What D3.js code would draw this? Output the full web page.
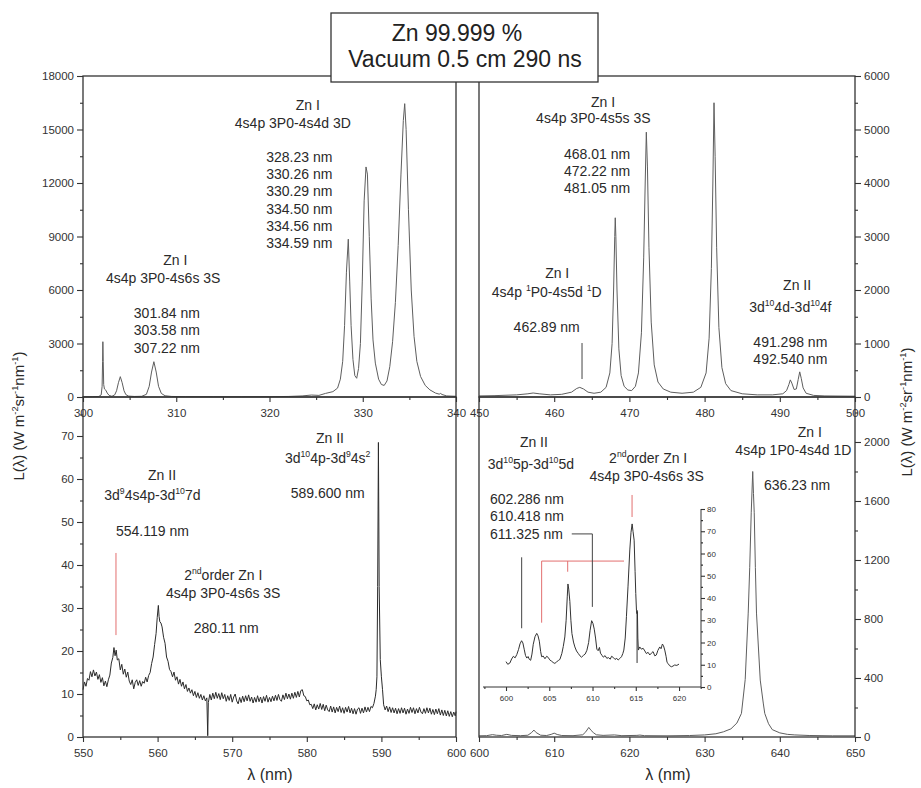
<!DOCTYPE html>
<html>
<head>
<meta charset="utf-8">
<script src="https://cdn.jsdelivr.net/npm/d3@7"></script>
<style>
  body { margin: 0; background: #fff; }
  svg { font-family: "Liberation Sans", Arial, sans-serif; }
</style>
</head>
<body>
<svg id="chart" width="921" height="788"></svg>
<script>
// ---------- spectra: [wavelength (nm), L(λ)] ----------
const spectrumUV = [
  [300.0,10],[301.0,15],[301.7,30],[301.95,120],[302.05,600],[302.1,2000],[302.13,3100],[302.17,2000],
  [302.22,700],[302.3,450],[302.45,380],[302.6,220],[302.8,90],[303.1,40],[303.4,120],[303.6,350],
  [303.8,800],[304.0,1140],[304.2,800],[304.4,350],[304.6,130],[304.9,50],[305.5,30],[306.3,40],
  [306.8,150],[307.1,600],[307.35,1400],[307.6,1980],[307.85,1400],[308.1,600],[308.4,200],[308.8,70],
  [309.5,30],[311,20],[314,15],[317,15],[320,20],[322,30],[323.5,60],[324.5,110],[325.3,90],[326,200],
  [326.8,300],[327.3,500],[327.6,1000],[327.85,2000],[328.05,4000],[328.25,7000],[328.45,8850],
  [328.6,6500],[328.75,4000],[328.95,2100],[329.15,1200],[329.35,1050],[329.55,1600],[329.75,3000],
  [329.95,6500],[330.15,11000],[330.35,12900],[330.5,12500],[330.7,9000],[330.9,5500],[331.1,3200],
  [331.35,1900],[331.7,1000],[332.0,700],[332.3,650],[332.6,900],[332.9,1700],[333.2,3100],[333.5,5300],
  [333.8,8500],[334.1,12500],[334.35,15500],[334.5,16450],[334.65,15000],[334.9,10500],[335.2,6000],
  [335.5,3400],[335.8,2000],[336.2,1150],[336.7,650],[337.2,400],[337.8,220],[338.2,160],[338.35,200],
  [338.5,140],[339.0,60],[340.0,40]
];

const spectrumBlue = [
  [450,20],[452,25],[455,40],[456.5,60],[457.2,75],[458,60],[459.5,40],[461,50],[462.3,90],[463.0,160],
  [463.4,180],[463.9,150],[464.5,90],[465.3,70],[466.2,90],[466.9,180],[467.4,450],[467.7,1000],
  [467.9,2000],[468.05,3000],[468.12,3350],[468.2,3000],[468.35,2000],[468.6,900],[468.9,400],
  [469.3,200],[469.8,130],[470.3,120],[470.8,200],[471.2,450],[471.6,1200],[471.9,2600],[472.1,4000],
  [472.25,4950],[472.4,4300],[472.6,2800],[472.9,1400],[473.3,600],[473.8,280],[474.5,150],[475.5,90],
  [477,70],[478.5,90],[479.5,180],[480.2,450],[480.6,1100],[480.9,2400],[481.1,4000],[481.25,5500],
  [481.4,4500],[481.6,2800],[481.9,1300],[482.3,550],[482.8,250],[483.5,120],[485,60],[487,40],
  [489,40],[490.4,60],[490.9,120],[491.2,230],[491.4,320],[491.6,260],[491.9,140],[492.2,150],
  [492.45,330],[492.65,470],[492.85,350],[493.1,170],[493.5,70],[494.5,30],[496,20],[500,15]
];

const spectrumYellow = [
  [550.0,11.0],[550.2,12.8],[550.4,11.8],[550.6,13.6],[550.8,13.2],[551.0,15.2],[551.2,14.0],[551.4,15.6],
  [551.6,14.2],[551.8,15.1],[552.0,13.4],[552.2,14.5],[552.4,12.7],[552.6,13.8],[552.8,11.9],[553.0,13.0],
  [553.2,11.7],[553.4,13.3],[553.6,14.4],[553.8,17.2],[554.0,18.5],[554.15,20.8],[554.3,18.9],[554.45,20.2],
  [554.6,17.9],[554.8,18.2],[555.0,15.6],[555.2,16.9],[555.4,14.6],[555.6,15.8],[555.8,13.9],[556.0,15.1],
  [556.2,13.0],[556.4,12.2],[556.6,13.3],[556.8,11.2],[557.0,12.7],[557.2,13.3],[557.4,12.0],[557.6,13.1],
  [557.8,11.8],[558.0,12.9],[558.2,12.5],[558.4,13.9],[558.6,12.8],[558.8,14.3],[559.0,15.0],[559.2,17.1],
  [559.4,18.6],[559.6,21.5],[559.8,24.1],[559.95,27.8],[560.1,30.6],[560.2,28.0],[560.3,26.8],[560.45,26.5],
  [560.6,25.6],[560.8,23.2],[561.0,21.8],[561.2,18.6],[561.4,17.6],[561.6,15.7],[561.8,15.2],[562.0,14.0],
  [562.2,15.1],[562.4,13.2],[562.6,14.0],[562.8,12.3],[563.0,13.4],[563.2,11.8],[563.4,12.8],[563.6,11.2],
  [563.8,12.2],[564.0,10.6],[564.2,11.4],[564.4,10.2],[564.6,11.0],[564.8,9.6],[565.0,10.6],[565.2,9.2],
  [565.4,10.3],[565.6,9.0],[565.8,9.9],[566.0,8.6],[566.2,9.6],[566.4,8.4],[566.6,9.1],[566.72,0.3],
  [566.8,8.0],[567.0,9.9],[567.2,8.6],[567.4,10.2],[567.6,8.9],[567.8,10.4],[568.0,9.0],[568.2,10.1],
  [568.4,8.7],[568.6,10.3],[568.8,8.9],[569.0,9.9],[569.2,8.3],[569.4,9.6],[569.6,8.5],[569.8,9.9],
  [570.0,8.1],[570.2,9.3],[570.4,10.0],[570.6,8.4],[570.8,7.7],[571.0,9.2],[571.2,8.0],[571.4,9.5],
  [571.6,8.2],[571.8,9.6],[572.0,8.4],[572.2,9.8],[572.4,8.3],[572.6,9.3],[572.8,7.9],[573.0,9.2],
  [573.2,8.1],[573.4,9.6],[573.6,8.2],[573.8,9.3],[574.0,7.9],[574.2,9.4],[574.4,8.3],[574.6,9.7],
  [574.8,8.1],[575.0,9.2],[575.2,8.2],[575.4,9.5],[575.6,8.4],[575.8,9.7],[576.0,8.5],[576.2,9.9],
  [576.4,8.7],[576.6,8.3],[576.8,9.8],[577.0,8.7],[577.2,10.2],[577.4,8.9],[577.6,10.0],[577.8,8.8],
  [578.0,10.2],[578.2,9.0],[578.4,10.4],[578.6,9.2],[578.8,10.6],[579.0,9.3],[579.2,10.8],[579.4,11.0],
  [579.6,9.6],[579.8,9.4],[580.0,8.4],[580.2,8.6],[580.4,7.5],[580.6,7.6],[580.8,6.6],[581.0,7.7],
  [581.2,6.3],[581.4,7.5],[581.6,6.5],[581.8,7.8],[582.0,6.4],[582.2,7.6],[582.4,6.1],[582.6,7.4],
  [582.8,6.3],[583.0,5.9],[583.2,7.2],[583.4,5.8],[583.6,7.0],[583.8,5.6],[584.0,6.9],[584.2,5.9],
  [584.4,7.2],[584.6,5.7],[584.8,6.8],[585.0,5.5],[585.2,6.9],[585.4,5.8],[585.6,7.1],[585.8,5.6],
  [586.0,6.7],[586.2,5.4],[586.4,6.6],[586.6,5.3],[586.8,6.5],[587.0,6.8],[587.2,5.5],[587.4,6.7],
  [587.6,5.6],[587.8,7.0],[588.0,5.8],[588.2,6.9],[588.4,5.9],[588.6,7.1],[588.8,6.8],[589.0,7.8],
  [589.2,9.5],[589.3,11.0],[589.4,14.0],[589.5,35.0],[589.6,68.5],[589.7,35.0],[589.85,18.0],[590.0,14.0],
  [590.15,11.0],[590.3,7.5],[590.5,6.3],[590.7,7.2],[590.9,5.9],[591.1,7.0],[591.3,5.7],[591.5,6.8],
  [591.7,5.6],[591.9,6.7],[592.1,5.4],[592.3,6.6],[592.5,5.5],[592.7,6.8],[592.9,5.6],[593.1,6.7],
  [593.3,5.3],[593.5,6.5],[593.7,5.5],[593.9,6.9],[594.1,5.7],[594.3,6.8],[594.5,5.4],[594.7,6.6],
  [594.9,5.6],[595.1,6.9],[595.3,5.8],[595.5,5.4],[595.7,6.6],[595.9,5.5],[596.1,6.8],[596.3,5.6],
  [596.5,6.7],[596.7,5.3],[596.9,6.4],[597.1,5.2],[597.3,6.5],[597.5,5.4],[597.7,6.6],[597.9,5.1],
  [598.1,6.3],[598.3,5.0],[598.5,6.2],[598.7,4.9],[598.9,6.1],[599.1,4.8],[599.3,5.9],[599.5,4.7],
  [599.7,5.8],[599.9,4.9],[600.0,5.9]
];

const spectrumRed = [
  [600,8],[601,9],[601.8,16],[602.3,12],[603.0,10],[603.7,18],[604.3,11],[605.5,9],[606.5,12],[607.0,30],
  [607.3,47],[607.6,30],[608.2,12],[609.0,10],[609.6,18],[610.0,26],[610.4,17],[611.0,10],[612.5,9],
  [613.8,15],[614.2,35],[614.6,65],[614.9,45],[615.2,30],[615.6,15],[616.5,11],[618.0,14],[619.0,9],
  [621.0,11],[621.4,13],[622,9],[625,8],[628,10],[630,14],[631.5,22],[632.5,35],[633.5,55],[634.3,95],
  [634.9,160],[635.4,390],[635.8,840],[636.0,1150],[636.2,1520],[636.4,1800],[636.5,1650],[636.6,1520],
  [636.75,1150],[636.9,840],[637.4,386],[637.8,230],[638.0,160],[638.5,90],[639.0,50],[640,28],[641,18],
  [642,14],[644,10],[647,8],[650,8]
];

const spectrumInset = [
  [600.0,11.4],[600.2,10.2],[600.45,10.8],[600.65,12.6],[600.85,13.8],[601.05,13.1],[601.25,14.6],
  [601.45,16.9],[601.62,19.4],[601.8,20.8],[601.95,19.8],[602.1,17.0],[602.25,14.2],[602.4,13.0],
  [602.55,13.7],[602.7,12.4],[602.85,12.0],[603.0,14.8],[603.15,19.2],[603.35,22.6],[603.55,24.1],
  [603.7,23.0],[603.85,20.6],[604.0,16.0],[604.12,13.6],[604.3,13.9],[604.5,12.7],[604.7,13.8],
  [604.88,13.3],[605.05,12.2],[605.27,11.6],[605.45,11.0],[605.65,10.6],[605.85,11.3],[606.05,11.9],
  [606.23,12.4],[606.45,15.0],[606.62,18.2],[606.8,22.5],[606.95,30.0],[607.08,40.5],[607.16,46.3],
  [607.25,44.0],[607.38,38.5],[607.5,30.0],[607.62,24.0],[607.8,20.2],[607.96,18.0],[608.15,16.2],
  [608.35,15.1],[608.55,14.0],[608.73,13.4],[608.95,14.2],[609.15,14.8],[609.35,16.5],[609.55,20.0],
  [609.72,25.5],[609.9,29.8],[610.05,28.6],[610.2,26.0],[610.35,22.0],[610.5,17.0],[610.65,16.3],
  [610.8,17.8],[610.92,15.2],[611.1,14.2],[611.25,13.4],[611.45,14.1],[611.65,12.9],[611.85,13.2],
  [612.05,12.5],[612.2,13.8],[612.4,13.3],[612.6,12.4],[612.8,12.9],[612.96,12.1],[613.15,12.8],
  [613.35,13.6],[613.5,15.0],[613.62,16.6],[613.78,22.0],[613.92,31.6],[614.1,45.0],[614.31,61.6],
  [614.45,69.5],[614.58,73.3],[614.68,70.0],[614.81,66.0],[614.92,52.0],[615.0,42.0],[615.08,34.5],
  [615.13,33.0],[615.19,33.9],[615.24,22.0],[615.3,16.6],[615.46,18.0],[615.65,17.0],[615.85,17.4],
  [616.05,16.2],[616.23,15.0],[616.42,15.6],[616.62,14.4],[616.8,15.2],[617.0,15.9],[617.2,14.0],
  [617.38,14.4],[617.55,16.4],[617.77,18.0],[617.92,17.2],[618.08,19.3],[618.2,18.6],[618.35,16.6],
  [618.5,13.8],[618.62,11.0],[618.73,10.6],[618.9,9.6],[619.12,9.1],[619.3,9.4],[619.5,9.9],
  [619.75,9.7],[620.0,10.3]
];

// ---------- tick values ----------
const uvTicksX = [300, 310, 320, 330, 340];
const uvTicksY = [0, 3000, 6000, 9000, 12000, 15000, 18000];
const blueTicksX = [450, 460, 470, 480, 490, 500];
const blueTicksY = [0, 1000, 2000, 3000, 4000, 5000, 6000];
const yellowTicksX = [550, 560, 570, 580, 590, 600];
const yellowTicksY = [0, 10, 20, 30, 40, 50, 60, 70];
const redTicksX = [600, 610, 620, 630, 640, 650];
const redTicksY = [0, 400, 800, 1200, 1600, 2000];
const insetTicksX = [600, 605, 610, 615, 620];
const insetTicksY = [0, 10, 20, 30, 40, 50, 60, 70, 80];

const titleLines = ["Zn 99.999 %", "Vacuum 0.5 cm 290 ns"];
const yTitle = "L(λ) (W m^{-2}sr^{-1}nm^{-1})";
const xTitle = "λ (nm)";

// ---------- layout ----------
const INK = "#333";
const CURVE = "#5e5e5e";
const RED = "#e26f6f";

const panels = {
  uv:     { data: spectrumUV, xd: [300, 340], yd: [0, 18000], l: 83,  r: 456, t: 76,  b: 397, side: "left",
            tx: uvTicksX, ty: uvTicksY, minorX: 5, minorY: 1500, curve: CURVE },
  blue:   { data: spectrumBlue, xd: [450, 500], yd: [0, 6000], l: 479, r: 855, t: 76,  b: 397, side: "right",
            tx: blueTicksX, ty: blueTicksY, minorX: 5, minorY: 500, curve: CURVE },
  yellow: { data: spectrumYellow, xd: [550, 600], yd: [0, 79.07], l: 83,  r: 456, t: 397, b: 737, side: "left",
            tx: yellowTicksX, ty: yellowTicksY, minorX: 5, minorY: 5, curve: "#2b2b2b" },
  red:    { data: spectrumRed, xd: [600, 650], yd: [0, 2305], l: 479, r: 855, t: 397, b: 737, side: "right",
            tx: redTicksX, ty: redTicksY, minorX: 5, minorY: 200, curve: CURVE }
};
const inset = { data: spectrumInset, xd: [597.34, 622.54], yd: [0, 80], l: 483, r: 701, t: 509, b: 687 };

const svg = d3.select("#chart");
svg.append("rect").attr("width", 921).attr("height", 788).attr("fill", "#fff");

// text with ^{...} superscripts
function rich(sel, str, fs) {
  const re = /\^\{([^}]*)\}/g;
  const shift = fs * 0.42;
  let last = 0, m, raised = false;
  while ((m = re.exec(str)) !== null) {
    if (m.index > last) {
      sel.append("tspan").attr("dy", raised ? shift : 0).text(str.slice(last, m.index));
      raised = false;
    }
    sel.append("tspan").attr("font-size", fs * 0.62).attr("dy", raised ? 0 : -shift).text(m[1]);
    raised = true;
    last = re.lastIndex;
  }
  if (last < str.length) sel.append("tspan").attr("dy", raised ? shift : 0).text(str.slice(last));
}

function minorValues(domain, step, majors) {
  const lo = Math.ceil(domain[0] / step) * step;
  return d3.range(lo, domain[1] + 1e-9, step).filter(v => !majors.some(M => Math.abs(M - v) < 1e-9));
}

function styleAxis(g, fs) {
  g.attr("font-family", null).attr("font-size", fs).attr("color", INK);
  g.select(".domain").remove();
  g.selectAll(".tick line").attr("stroke-width", 1.1);
  g.selectAll("text").attr("fill", INK);
}

// ---------- main panels ----------
Object.values(panels).forEach(p => {
  p.x = d3.scaleLinear().domain(p.xd).range([p.l, p.r]);
  p.y = d3.scaleLinear().domain(p.yd).range([p.b, p.t]);

  svg.append("path")
    .datum(p.data)
    .attr("fill", "none")
    .attr("stroke", p.curve)
    .attr("stroke-width", 1)
    .attr("stroke-linejoin", "round")
    .attr("d", d3.line().x(d => p.x(d[0])).y(d => p.y(d[1])));

  // x axis
  svg.append("g").attr("transform", `translate(0,${p.b})`)
    .call(d3.axisBottom(p.x).tickValues(minorValues(p.xd, p.minorX, p.tx)).tickSize(3).tickFormat(""))
    .call(g => styleAxis(g, 11.5));
  svg.append("g").attr("transform", `translate(0,${p.b})`)
    .call(d3.axisBottom(p.x).tickValues(p.tx).tickSize(5).tickPadding(7).tickFormat(d3.format("d")))
    .call(g => styleAxis(g, 11.5));

  // y axis
  const yMaj = p.side === "left" ? d3.axisLeft(p.y) : d3.axisRight(p.y);
  const yMin = p.side === "left" ? d3.axisLeft(p.y) : d3.axisRight(p.y);
  const ax = p.side === "left" ? p.l : p.r;
  svg.append("g").attr("transform", `translate(${ax},0)`)
    .call(yMin.tickValues(minorValues(p.yd, p.minorY, p.ty)).tickSize(3).tickFormat(""))
    .call(g => styleAxis(g, 11.5));
  svg.append("g").attr("transform", `translate(${ax},0)`)
    .call(yMaj.tickValues(p.ty).tickSize(6).tickPadding(3).tickFormat(d3.format("d")))
    .call(g => styleAxis(g, 11.5));

  svg.append("rect")
    .attr("x", p.l).attr("y", p.t).attr("width", p.r - p.l).attr("height", p.b - p.t)
    .attr("fill", "none").attr("stroke", INK).attr("stroke-width", 1.3);
});

// ---------- inset ----------
inset.x = d3.scaleLinear().domain(inset.xd).range([inset.l, inset.r]);
inset.y = d3.scaleLinear().domain(inset.yd).range([inset.b, inset.t]);
svg.append("path")
  .datum(inset.data)
  .attr("fill", "none").attr("stroke", "#333").attr("stroke-width", 1)
  .attr("stroke-linejoin", "round")
  .attr("d", d3.line().x(d => inset.x(d[0])).y(d => inset.y(d[1])));
svg.append("g").attr("transform", `translate(0,${inset.b})`)
  .call(d3.axisBottom(inset.x).tickValues(minorValues(inset.xd, 2.5, insetTicksX)).tickSize(2).tickFormat(""))
  .call(g => styleAxis(g, 8));
svg.append("g").attr("transform", `translate(0,${inset.b})`)
  .call(d3.axisBottom(inset.x).tickValues(insetTicksX).tickSize(4).tickPadding(4).tickFormat(d3.format("d")))
  .call(g => styleAxis(g, 8));
svg.append("g").attr("transform", `translate(${inset.r},0)`)
  .call(d3.axisRight(inset.y).tickValues(minorValues(inset.yd, 5, insetTicksY)).tickSize(2).tickFormat(""))
  .call(g => styleAxis(g, 8));
svg.append("g").attr("transform", `translate(${inset.r},0)`)
  .call(d3.axisRight(inset.y).tickValues(insetTicksY).tickSize(4).tickPadding(2).tickFormat(d3.format("d")))
  .call(g => styleAxis(g, 8));
svg.append("line")
  .attr("x1", inset.l).attr("x2", inset.r).attr("y1", inset.b).attr("y2", inset.b)
  .attr("stroke", INK).attr("stroke-width", 1);
svg.append("line")
  .attr("x1", inset.r).attr("x2", inset.r).attr("y1", inset.t).attr("y2", inset.b)
  .attr("stroke", INK).attr("stroke-width", 1);

// ---------- leader lines to identified transitions ----------
const scalesOf = { uv: panels.uv, blue: panels.blue, yellow: panels.yellow, red: panels.red, inset: inset };
const leaders = [
  { on: "blue",   c: "#444", pts: [[463.7, 1009], [463.7, 336]] },
  { on: "yellow", c: RED,    pts: [[554.42, 42.8], [554.42, 23.7]] },
  { on: "inset",  c: "#444", pts: [[601.81, 58.3], [601.81, 26.4]] },
  { on: "inset",  c: RED,    pts: [[604.12, 28.9], [604.12, 56.6], [613.64, 56.6]] },
  { on: "inset",  c: RED,    pts: [[607.13, 56.6], [607.13, 51.8]] },
  { on: "inset",  c: "#444", pts: [[607.6, 68.8], [609.98, 68.8], [609.98, 36]] },
  { on: "inset",  c: RED,    pts: [[614.57, 86.3], [614.57, 76.4]] },
  { on: "inset",  c: "#333", pts: [[615.15, 34.6], [615.15, 10.8]] }
];
leaders.forEach(L => {
  const s = scalesOf[L.on];
  svg.append("path")
    .attr("fill", "none").attr("stroke", L.c).attr("stroke-width", 1)
    .attr("d", d3.line().x(d => s.x(d[0])).y(d => s.y(d[1]))(L.pts));
});

// ---------- line labels ----------
const labels = [
  { on: "uv", x: 324.1, y: 16090, lines: ["Zn I"] },
  { on: "uv", x: 322.5, y: 15080, lines: ["4s4p 3P0-4s4d 3D"] },
  { on: "uv", x: 323.2, y: 13180, lh: 17.2, lines: ["328.23 nm", "330.26 nm", "330.29 nm", "334.50 nm", "334.56 nm", "334.59 nm"] },
  { on: "uv", x: 309.9, y: 7400, lines: ["Zn I"] },
  { on: "uv", x: 308.6, y: 6390, lines: ["4s4p 3P0-4s6s 3S"] },
  { on: "uv", x: 309.0, y: 4430, lh: 17.5, lines: ["301.84 nm", "303.58 nm", "307.22 nm"] },

  { on: "blue", x: 466.5, y: 5420, lines: ["Zn I"] },
  { on: "blue", x: 465.2, y: 5120, lines: ["4s4p 3P0-4s5s 3S"] },
  { on: "blue", x: 465.7, y: 4450, lh: 17, lines: ["468.01 nm", "472.22 nm", "481.05 nm"] },
  { on: "blue", x: 460.4, y: 2224, lines: ["Zn I"] },
  { on: "blue", x: 459.0, y: 1869, lines: ["4s4p ^{1}P0-4s5d ^{1}D"] },
  { on: "blue", x: 459.0, y: 1215, lines: ["462.89 nm"] },
  { on: "blue", x: 492.3, y: 2000, lines: ["Zn II"] },
  { on: "blue", x: 491.4, y: 1589, lines: ["3d^{10}4d-3d^{10}4f"] },
  { on: "blue", x: 491.4, y: 935, lh: 17, lines: ["491.298 nm", "492.540 nm"] },

  { on: "yellow", x: 560.6, y: 59.8, lines: ["Zn II"] },
  { on: "yellow", x: 559.3, y: 55.1, lines: ["3d^{9}4s4p-3d^{10}7d"] },
  { on: "yellow", x: 559.3, y: 46.7, lines: ["554.119 nm"] },
  { on: "yellow", x: 568.8, y: 36.5, lines: ["2^{nd}order Zn I"] },
  { on: "yellow", x: 568.8, y: 32.3, lines: ["4s4p 3P0-4s6s 3S"] },
  { on: "yellow", x: 569.2, y: 24.2, lines: ["280.11 nm"] },
  { on: "yellow", x: 583.1, y: 68.4, lines: ["Zn II"] },
  { on: "yellow", x: 582.8, y: 63.7, lines: ["3d^{10}4p-3d^{9}4s^{2}"] },
  { on: "yellow", x: 582.8, y: 55.6, lines: ["589.600 nm"] },

  { on: "red", x: 607.3, y: 1966, lines: ["Zn II"] },
  { on: "red", x: 606.9, y: 1817, lines: ["3d^{10}5p-3d^{10}5d"] },
  { on: "red", x: 622.5, y: 1858, lines: ["2^{nd}order Zn I"] },
  { on: "red", x: 622.3, y: 1736, lines: ["4s4p 3P0-4s6s 3S"] },
  { on: "red", x: 601.46, y: 1580, lh: 17.5, anchor: "start", lines: ["602.286 nm", "610.418 nm", "611.325 nm"] },
  { on: "red", x: 644.0, y: 2034, lines: ["Zn I"] },
  { on: "red", x: 641.8, y: 1912, lines: ["4s4p 1P0-4s4d 1D"] },
  { on: "red", x: 642.3, y: 1675, lines: ["636.23 nm"] }
];
labels.forEach(a => {
  const s = scalesOf[a.on];
  a.lines.forEach((ln, i) => {
    const t = svg.append("text")
      .attr("x", s.x(a.x)).attr("y", s.y(a.y) + i * (a.lh || 17))
      .attr("text-anchor", a.anchor || "middle")
      .attr("font-size", 14).attr("fill", "#2a2a2a");
    rich(t, ln, 14);
  });
});

// ---------- axis titles ----------
[{ x: 270 }, { x: 668 }].forEach(d => {
  svg.append("text").attr("x", d.x).attr("y", 780).attr("text-anchor", "middle")
    .attr("font-size", 16).attr("fill", "#2a2a2a").text(xTitle);
});
[{ x: 24, y: 416 }, { x: 912, y: 412 }].forEach(d => {
  const t = svg.append("text")
    .attr("transform", `translate(${d.x},${d.y}) rotate(-90)`)
    .attr("text-anchor", "middle").attr("font-size", 15).attr("fill", "#2a2a2a");
  rich(t, yTitle, 15);
});

// ---------- title box ----------
svg.append("rect").attr("x", 331).attr("y", 13).attr("width", 267).attr("height", 69)
  .attr("fill", "#fff").attr("stroke", INK).attr("stroke-width", 1.3);
svg.append("text").attr("x", 457).attr("y", 41).attr("text-anchor", "middle")
  .attr("font-size", 23).attr("fill", "#222").text(titleLines[0]);
svg.append("text").attr("x", 465).attr("y", 67).attr("text-anchor", "middle")
  .attr("font-size", 23).attr("fill", "#222").text(titleLines[1]);
</script>
</body>
</html>
